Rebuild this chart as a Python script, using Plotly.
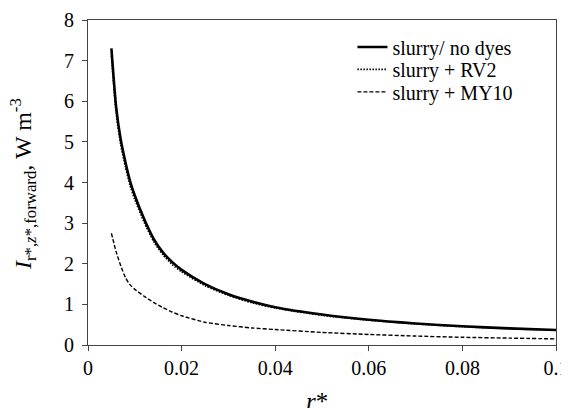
import plotly.graph_objects as go

r_star = [0.005, 0.006, 0.007, 0.008, 0.009, 0.010, 0.012, 0.014, 0.016, 0.018,
          0.020, 0.025, 0.030, 0.035, 0.040, 0.050, 0.060, 0.070, 0.080, 0.090, 0.100]
no_dyes = [7.30, 5.87, 5.05, 4.50, 4.03, 3.68, 3.10, 2.62, 2.28, 2.04,
           1.85, 1.50, 1.25, 1.07, 0.93, 0.75, 0.62, 0.53, 0.46, 0.41, 0.37]
rv2 = [7.12, 5.72, 4.92, 4.38, 3.92, 3.58, 3.02, 2.55, 2.22, 1.98,
       1.80, 1.46, 1.22, 1.04, 0.91, 0.73, 0.61, 0.52, 0.45, 0.40, 0.36]
my10 = [2.75, 2.30, 1.95, 1.66, 1.48, 1.37, 1.20, 1.05, 0.92, 0.81,
        0.72, 0.56, 0.48, 0.42, 0.38, 0.31, 0.26, 0.22, 0.19, 0.17, 0.15]

x_ticks = [0, 0.02, 0.04, 0.06, 0.08, 0.1]
x_tick_labels = ["0", "0.02", "0.04", "0.06", "0.08", "0.1"]
y_ticks = [0, 1, 2, 3, 4, 5, 6, 7, 8]

FONT = "Liberation Serif"

fig = go.Figure()
fig.add_trace(go.Scatter(x=r_star, y=no_dyes, mode="lines", name="slurry/ no dyes",
                         legend="legend",
                         line=dict(color="black", width=2.6, shape="spline", smoothing=0.6)))
fig.add_trace(go.Scatter(x=r_star, y=rv2, mode="lines", name="slurry + RV2",
                         legend="legend2",
                         line=dict(color="black", width=1.6, dash="1.5px,1.5px",
                                   shape="spline", smoothing=0.6)))
fig.add_trace(go.Scatter(x=r_star, y=my10, mode="lines", name="slurry + MY10",
                         legend="legend3",
                         line=dict(color="black", width=1.4, dash="4px,2px",
                                   shape="spline", smoothing=0.6)))

axis_common = dict(showline=True, linecolor="#444", linewidth=1, mirror=True,
                   ticks="outside", ticklen=5, tickcolor="#444", showgrid=False,
                   zeroline=False, automargin=False,
                   tickfont=dict(family=FONT, size=20, color="black"))

fig.update_xaxes(range=[0, 0.1], tickvals=x_ticks, ticktext=x_tick_labels, **axis_common)
fig.update_yaxes(range=[0, 8], tickvals=y_ticks, ticklabelstandoff=4, **axis_common)

fig.add_annotation(text="<i>I</i><sub>r*,<i>z</i>*,forward</sub>, W m<sup>-3</sup>",
                   xref="paper", yref="paper", x=-0.139, y=0.495, textangle=-90,
                   showarrow=False, xanchor="center", yanchor="middle",
                   font=dict(family=FONT, size=24, color="black"))
fig.add_annotation(text="<i>r</i>*", xref="paper", yref="paper", x=0.49, y=-0.125,
                   showarrow=False, xanchor="center", yanchor="top",
                   font=dict(family=FONT, size=25, color="black"))

leg_common = dict(x=0.565, xanchor="left", yanchor="middle",
                  bgcolor="rgba(0,0,0,0)", font=dict(family=FONT, size=20, color="black"),
                  itemwidth=30)

fig.update_layout(
    width=561, height=400,
    margin=dict(l=80, r=13, t=12, b=63),
    paper_bgcolor="white", plot_bgcolor="white",
    font=dict(family=FONT, color="black"),
    showlegend=True,
    legend=dict(y=0.917, **leg_common),
    legend2=dict(y=0.848, **leg_common),
    legend3=dict(y=0.779, **leg_common),
)

fig.write_html("out.html")
